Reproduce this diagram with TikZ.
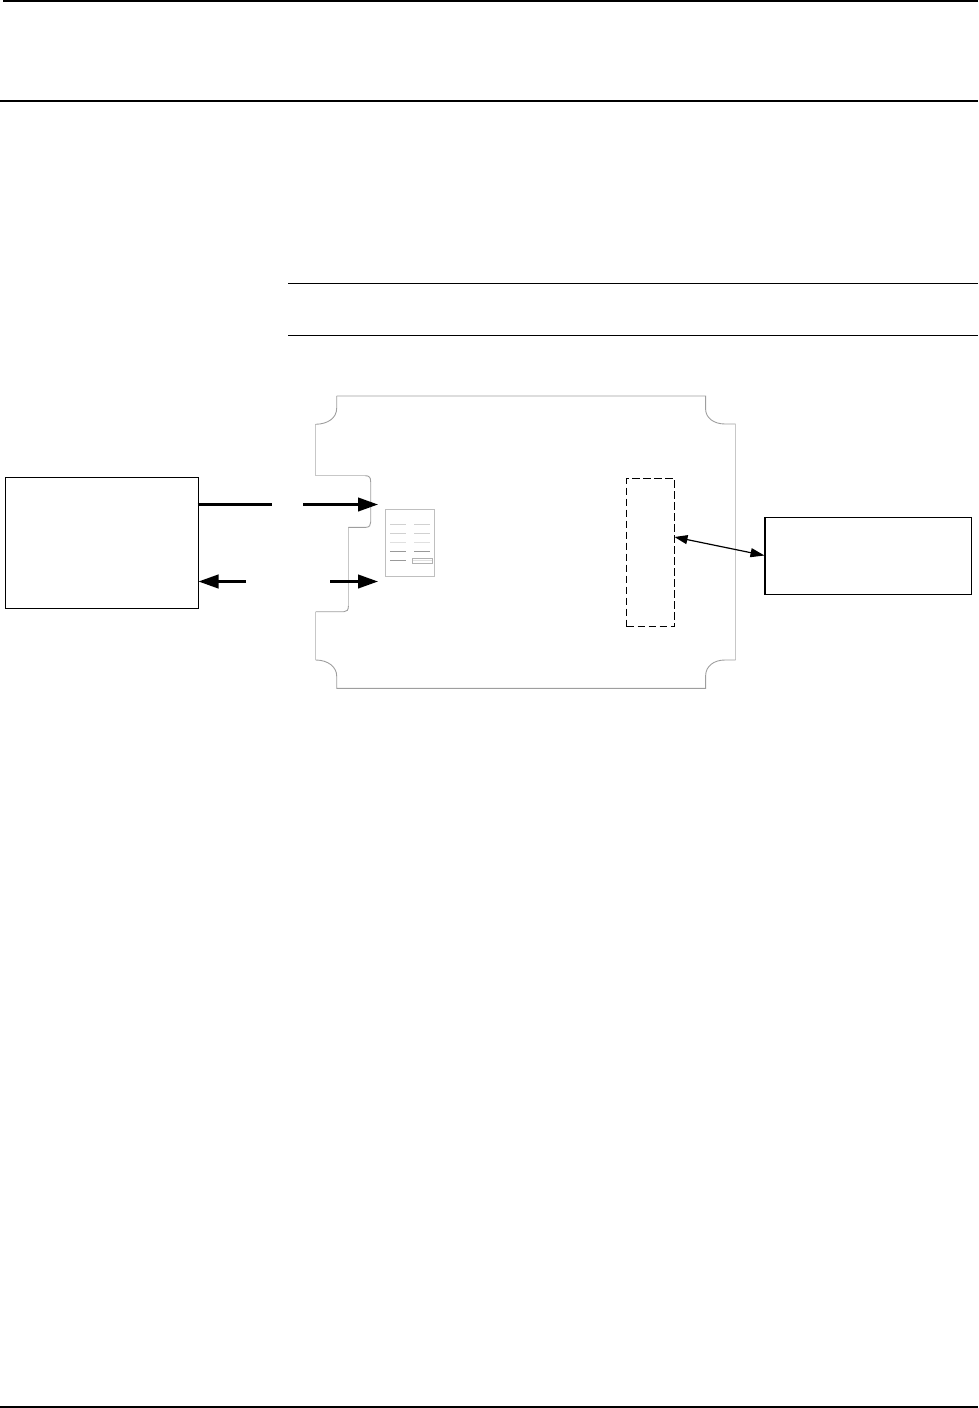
\documentclass[tikz,border=0pt]{standalone}
\usetikzlibrary{arrows.meta}
\tikzset{
  x=1pt,y=-1pt,
  rulethin/.style={black,line width=1pt},
  rulethick/.style={black,line width=2pt},
  outline/.style={draw=black!38,line width=0.9pt},
  outlinepale/.style={draw=black!22,line width=1pt},
  detail/.style={draw=black!25,line width=0.9pt},
  box/.style={draw=black,line width=1.1pt,fill=white},
  sigline/.style={black,line width=2.6pt,-{Triangle[length=20pt,width=13.5pt]}},
  sigplain/.style={black,line width=2.6pt},
  link/.style={black,line width=1.2pt,{Triangle[length=13pt,width=9pt]}-{Triangle[length=14pt,width=9pt]}}
}
\begin{document}
\begin{tikzpicture}
\useasboundingbox (0,0) rectangle (978,1408);
% page rules
\coordinate (t1) at (3,1); \coordinate (t2) at (978,1);
\coordinate (h1) at (0,101); \coordinate (h2) at (978,101);
\coordinate (n1) at (288,283.5); \coordinate (n2) at (978,283.5);
\coordinate (m1) at (288,335.5); \coordinate (m2) at (978,335.5);
\coordinate (b1) at (0,1407); \coordinate (b2) at (978,1407);
\draw[rulethick] (t1)--(t2);
\draw[rulethick] (h1)--(h2);
\draw[rulethin] (n1)--(n2);
\draw[rulethin] (m1)--(m2);
\draw[rulethick] (b1)--(b2);
% board outline
\draw[outline] (336.7,396) -- (705.6,396) -- (705.6,409)
  .. controls (705.6,418) and (714,424) .. (725,424) -- (735.6,424);
\draw[outlinepale] (735.6,424) -- (735.6,660);
\draw[outline] (735.6,660) -- (725,660)
  .. controls (714,660) and (705.6,666) .. (705.6,676)
  -- (705.6,688.4) -- (336.7,688.4) -- (336.7,676)
  .. controls (336.7,667) and (328,660) .. (315.7,660);
\draw[outlinepale] (315.7,660) -- (315.7,611.7);
\draw[outline] (315.7,611.7) -- (344,611.7)
  .. controls (347,611.7) and (348.4,610) .. (348.4,606);
\draw[outlinepale] (348.4,606) -- (348.4,527.3);
\draw[outline] (348.4,527.3) -- (366,527.3)
  .. controls (369.5,527.3) and (370.7,525) .. (370.7,522)
  -- (370.7,482)
  .. controls (370.7,477) and (369,475.7) .. (365,475.7);
\draw[outlinepale] (365,475.7) -- (315.7,475.7) -- (315.7,424.3);
\draw[outline] (315.7,424.3)
  .. controls (328,424) and (336.7,418) .. (336.7,408) -- (336.7,396);
% small panel
\draw[detail] (385.5,509.5) rectangle (434.5,576);
\foreach \y/\c in {524.5/18,533.5/18,542.5/12,551/40,560/40}{
  \draw[draw=black!\c,line width=1pt] (390,\y) -- (406,\y);
}
\foreach \y/\c in {524.5/18,533.5/18,542.5/12,551/40}{
  \draw[draw=black!\c,line width=1pt] (414,\y) -- (430,\y);
}
\draw[draw=black!30,line width=0.8pt] (412.5,558) rectangle (432,563.5);
\draw[draw=black!12,line width=0.6pt] (412.5,560.5) -- (432,560.5);
% dashed connector block
\node[draw=black,line width=1pt,dash pattern=on 7.5pt off 3.5pt,minimum width=48pt,minimum height=148pt,inner sep=0pt,outer sep=0pt] (bus) at (650.5,552.5) {};
% side boxes
\node[box,minimum width=193pt,minimum height=131pt,inner sep=0pt,outer sep=0pt] (left) at (102,543) {};
\node[box,minimum width=206.5pt,minimum height=76.5pt,inner sep=0pt,outer sep=0pt] (right) at (868.2,555.8) {};
\draw[black,line width=2pt] (right.north west) -- (right.south west);
% arrows
\coordinate (a1) at (272,504.5);
\coordinate (a2) at (303,504.5);
\coordinate (a3) at (378,504.5);
\coordinate (a4) at (246,581.5);
\coordinate (a5) at (330,581.5);
\coordinate (a6) at (378,581.5);
\coordinate (lu) at (197.5,504.5);
\coordinate (ll) at (198.5,581.5);
\draw[sigplain] (lu) -- (a1);
\draw[sigline] (a2) -- (a3);
\draw[sigline] (a4) -- (ll);
\draw[sigline] (a5) -- (a6);
\coordinate (bl) at (674.5,537);
\coordinate (rl) at (764.5,555.5);
\draw[link] (bl) -- (rl);
\end{tikzpicture}
\end{document}
